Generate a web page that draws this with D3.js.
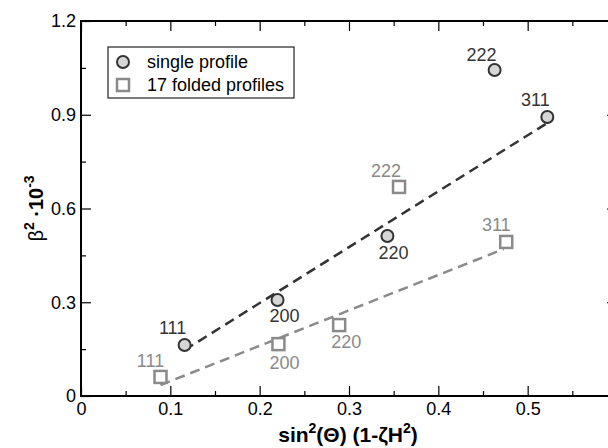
<style>
  body { margin: 0; }
</style>
<script src="https://d3js.org/d3.v7.min.js"></script>

<svg id="chart" width=608 height=448></svg>

<script>
  "use strict";
  const WIDTH = 608;
  const HEIGHT = 448;

  // data
  const reflections = ["111", "200", "220", "222", "311"];
  const singleX = [0.116, 0.220, 0.343, 0.463, 0.522];
  const singleY = [0.163, 0.307, 0.512, 1.043, 0.893];
  const foldedX = [0.089, 0.221, 0.289, 0.356, 0.476];
  const foldedY = [0.061, 0.166, 0.227, 0.669, 0.493];
  // fitted lines (two end points each)
  const singleFitX = [0.116, 0.520];
  const singleFitY = [0.147, 0.870];
  const foldedFitX = [0.089, 0.473];
  const foldedFitY = [0.035, 0.470];
  const xTicks = [0, 0.1, 0.2, 0.3, 0.4, 0.5];
  const yTicks = [0, 0.3, 0.6, 0.9, 1.2];
  const legendLabels = ["single profile", "17 folded profiles"];

  const LEFT = 81, RIGHT = 617, TOP = 21, BOTTOM = 396;
  const DARK = "#333333", GREY = "#8a8a8a";
  const FONT = "Liberation Sans, Arial, Helvetica, sans-serif";

  const svg = d3.select("#chart").attr("style", "background-color: white; display: block");
  svg.append("rect").attr("width", WIDTH).attr("height", HEIGHT).attr("fill", "white");

  const x = d3.scaleLinear().domain([0, 0.6]).range([LEFT, RIGHT]);
  const y = d3.scaleLinear().domain([0, 1.2]).range([BOTTOM, TOP]);

  const fmt = d => d === 0 ? "0" : d3.format(".1f")(d);
  const xMinor = d3.range(0.05, 0.6, 0.1);
  const yMinor = d3.range(0.15, 1.2, 0.3);

  // axes with inward ticks
  function styleAxis(g) {
    g.select(".domain").remove();
    g.selectAll("line").attr("stroke", "black").attr("stroke-width", 1.2);
    g.selectAll("text").attr("font-family", FONT).attr("font-size", 18).attr("fill", "black");
  }

  svg.append("g").attr("transform", `translate(0,${BOTTOM})`)
    .call(d3.axisBottom(x).tickValues(xTicks).tickSize(-10).tickPadding(6).tickFormat(fmt))
    .call(styleAxis);
  svg.append("g").attr("transform", `translate(0,${BOTTOM})`)
    .call(d3.axisBottom(x).tickValues(xMinor).tickSize(-5).tickFormat(""))
    .call(styleAxis);
  svg.append("g").attr("transform", `translate(0,${TOP})`)
    .call(d3.axisTop(x).tickValues(xTicks).tickSize(-10).tickFormat(""))
    .call(styleAxis);
  svg.append("g").attr("transform", `translate(0,${TOP})`)
    .call(d3.axisTop(x).tickValues(xMinor).tickSize(-5).tickFormat(""))
    .call(styleAxis);
  svg.append("g").attr("transform", `translate(${LEFT},0)`)
    .call(d3.axisLeft(y).tickValues(yTicks).tickSize(-10).tickPadding(5).tickFormat(fmt))
    .call(styleAxis);
  svg.append("g").attr("transform", `translate(${LEFT},0)`)
    .call(d3.axisLeft(y).tickValues(yMinor).tickSize(-5).tickFormat(""))
    .call(styleAxis);
  svg.append("g").attr("transform", `translate(${RIGHT},0)`)
    .call(d3.axisRight(y).tickValues(yTicks).tickSize(-10).tickFormat(""))
    .call(styleAxis);
  svg.append("g").attr("transform", `translate(${RIGHT},0)`)
    .call(d3.axisRight(y).tickValues(yMinor).tickSize(-5).tickFormat(""))
    .call(styleAxis);

  // frame
  svg.append("rect")
    .attr("x", LEFT).attr("y", TOP)
    .attr("width", RIGHT - LEFT).attr("height", BOTTOM - TOP)
    .attr("fill", "none").attr("stroke", "black").attr("stroke-width", 2);

  // fit lines
  const line = d3.line().x(d => x(d[0])).y(d => y(d[1]));
  svg.append("path")
    .datum(d3.zip(singleFitX, singleFitY))
    .attr("d", line)
    .attr("fill", "none").attr("stroke", DARK).attr("stroke-width", 2.5)
    .attr("stroke-dasharray", "10,6");
  svg.append("path")
    .datum(d3.zip(foldedFitX, foldedFitY))
    .attr("d", line)
    .attr("fill", "none").attr("stroke", GREY).attr("stroke-width", 2.5)
    .attr("stroke-dasharray", "10,6");

  // points
  const single = reflections.map((r, i) => ({ label: r, x: singleX[i], y: singleY[i] }));
  const folded = reflections.map((r, i) => ({ label: r, x: foldedX[i], y: foldedY[i] }));

  const SQ = 12;
  svg.append("g").selectAll("rect")
    .data(folded)
    .enter()
    .append("rect")
    .attr("x", d => x(d.x) - SQ / 2)
    .attr("y", d => y(d.y) - SQ / 2)
    .attr("width", SQ).attr("height", SQ)
    .attr("fill", "white").attr("stroke", GREY).attr("stroke-width", 2.5);

  svg.append("g").selectAll("circle")
    .data(single)
    .enter()
    .append("circle")
    .attr("cx", d => x(d.x))
    .attr("cy", d => y(d.y))
    .attr("r", 6)
    .attr("fill", "#d6d6d6").attr("stroke", DARK).attr("stroke-width", 2);

  // point labels, offsets in pixels
  const singleOffsets = [[-12, -11], [7, 22], [6, 23], [-13, -9], [-12, -11]];
  const foldedOffsets = [[-10, -10], [6, 25], [7, 23], [-13, -10], [-10, -11]];

  svg.append("g").selectAll("text")
    .data(single)
    .enter()
    .append("text")
    .attr("x", (d, i) => x(d.x) + singleOffsets[i][0])
    .attr("y", (d, i) => y(d.y) + singleOffsets[i][1])
    .attr("text-anchor", "middle")
    .attr("font-family", FONT).attr("font-size", 18).attr("fill", DARK)
    .text(d => d.label);

  svg.append("g").selectAll("text")
    .data(folded)
    .enter()
    .append("text")
    .attr("x", (d, i) => x(d.x) + foldedOffsets[i][0])
    .attr("y", (d, i) => y(d.y) + foldedOffsets[i][1])
    .attr("text-anchor", "middle")
    .attr("font-family", FONT).attr("font-size", 18).attr("fill", GREY)
    .text(d => d.label);

  // legend
  const legend = svg.append("g");
  legend.append("rect")
    .attr("x", 108).attr("y", 47).attr("width", 186).attr("height", 51)
    .attr("fill", "white").attr("stroke", "#222").attr("stroke-width", 1.2);
  legend.append("circle")
    .attr("cx", 123).attr("cy", 62).attr("r", 6)
    .attr("fill", "#d6d6d6").attr("stroke", DARK).attr("stroke-width", 2);
  legend.append("rect")
    .attr("x", 123 - SQ / 2).attr("y", 85 - SQ / 2).attr("width", SQ).attr("height", SQ)
    .attr("fill", "white").attr("stroke", GREY).attr("stroke-width", 2.5);
  legend.selectAll("text")
    .data(legendLabels)
    .enter()
    .append("text")
    .attr("x", 147)
    .attr("y", (d, i) => 68 + i * 23)
    .attr("font-family", FONT).attr("font-size", 18).attr("fill", "black")
    .text(d => d);

  // axis titles
  const xTitle = svg.append("text")
    .attr("x", (LEFT + RIGHT) / 2 - 1).attr("y", 442)
    .attr("text-anchor", "middle")
    .attr("font-family", FONT).attr("font-size", 21).attr("font-weight", "bold");
  xTitle.append("tspan").text("sin");
  xTitle.append("tspan").attr("dy", -9).attr("font-size", 14).text("2");
  xTitle.append("tspan").attr("dy", 9).text("(Θ) (1-ζH");
  xTitle.append("tspan").attr("dy", -9).attr("font-size", 14).text("2");
  xTitle.append("tspan").attr("dy", 9).text(")");

  const yTitle = svg.append("text")
    .attr("transform", `translate(43,${(TOP + BOTTOM) / 2}) rotate(-90)`)
    .attr("text-anchor", "middle")
    .attr("font-family", FONT).attr("font-size", 20).attr("font-weight", "bold");
  yTitle.append("tspan").attr("font-weight", "normal").text("β");
  yTitle.append("tspan").attr("dy", -9).attr("font-size", 14).text("2");
  yTitle.append("tspan").attr("dy", 9).text(" ·10");
  yTitle.append("tspan").attr("dy", -9).attr("font-size", 14).text("-3");
</script>
